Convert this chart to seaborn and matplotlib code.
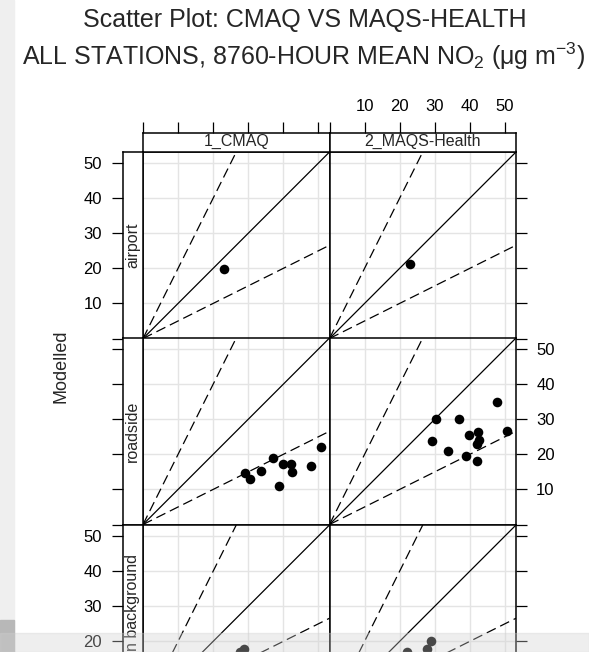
import matplotlib
matplotlib.use("Agg")
import matplotlib.pyplot as plt
from matplotlib.patches import Rectangle
import seaborn as sns
import pandas as pd

sns.set_style("white")
plt.rcParams['font.family'] = ['Liberation Sans', 'DejaVu Sans']
plt.rcParams['mathtext.fontset'] = 'custom'
plt.rcParams['mathtext.rm'] = 'Liberation Sans'
plt.rcParams['mathtext.default'] = 'regular'

models = ["1_CMAQ", "2_MAQS-Health"]
sites = ["airport", "roadside", "urban background"]

airport_cmaq_obs = [23.1]
airport_cmaq_mod = [19.9]
airport_maqs_obs = [22.9]
airport_maqs_mod = [21.3]

roadside_cmaq_obs = [29.1, 30.6, 33.8, 37.0, 39.8, 42.3, 42.4, 38.8, 47.9, 50.7]
roadside_cmaq_mod = [14.8, 13.1, 15.3, 18.9, 17.4, 17.4, 15.1, 10.9, 16.6, 22.2]
roadside_maqs_obs = [30.5, 36.9, 29.1, 33.7, 39.8, 42.5, 42.7, 42.0, 38.8, 42.0, 47.8, 50.7]
roadside_maqs_mod = [30.2, 30.2, 23.9, 21.1, 25.6, 26.3, 24.1, 22.9, 19.4, 18.2, 34.9, 26.6]

urban_cmaq_obs = [28.9, 27.8]
urban_cmaq_mod = [17.9, 16.9]
urban_maqs_obs = [28.9, 27.7, 22.2]
urban_maqs_mod = [20.1, 17.7, 16.9]

ticks = [0, 10, 20, 30, 40, 50]
tick_labels = ["", "10", "20", "30", "40", "50"]
no_labels = [""] * len(ticks)
ref_slopes = [1.0, 2.0, 0.5]   # 1:1, 2:1, 1:2 lines

series = [
    ("airport", "1_CMAQ", airport_cmaq_obs, airport_cmaq_mod),
    ("airport", "2_MAQS-Health", airport_maqs_obs, airport_maqs_mod),
    ("roadside", "1_CMAQ", roadside_cmaq_obs, roadside_cmaq_mod),
    ("roadside", "2_MAQS-Health", roadside_maqs_obs, roadside_maqs_mod),
    ("urban background", "1_CMAQ", urban_cmaq_obs, urban_cmaq_mod),
    ("urban background", "2_MAQS-Health", urban_maqs_obs, urban_maqs_mod),
]
frames = []
for site, model, obs, mod in series:
    frames.append(pd.DataFrame({"site": site, "model": model, "obs": obs, "mod": mod}))
df = pd.concat(frames, ignore_index=True)

W, H = 589, 652
fig = plt.figure(figsize=(W / 100, H / 100), dpi=100)

def box(x0, y0, w, h):
    # pixel box (top-left origin) -> figure fraction
    return [x0 / W, (H - y0 - h) / H, w / W, h / H]

def frame(a):
    for sp in a.spines.values():
        sp.set_color("black")
        sp.set_linewidth(1.1)

col_x = [143, 329.5]
row_y = [152, 338, 525]
pw, ph = 186.5, 186.5
lim = 53.2
tick_fs = 12
strip_fs = 11.5

for r, site in enumerate(sites):
    for c, model in enumerate(models):
        ax = fig.add_axes(box(col_x[c], row_y[r], pw, ph))
        ax.set_xlim(0, lim)
        ax.set_ylim(0, lim)
        for v in ticks[1:]:
            ax.axvline(v, color="#e4e4e4", lw=1.0, zorder=0)
            ax.axhline(v, color="#e4e4e4", lw=1.0, zorder=0)
        for s in ref_slopes:
            ax.axline((0, 0), slope=s, color="black", lw=0.9,
                      ls="-" if s == 1.0 else (0, (8, 4)), zorder=2)
        sub = df[(df["site"] == site) & (df["model"] == model)]
        sns.scatterplot(data=sub, x="obs", y="mod", ax=ax, color="black",
                        s=48, linewidth=0, legend=False, zorder=3)
        ax.set_xlabel("")
        ax.set_ylabel("")
        frame(ax)
        ax.set_xticks([])
        if c == 1:
            ax.yaxis.tick_right()
            ax.set_yticks(ticks)
            ax.set_yticklabels(tick_labels if r == 1 else no_labels, fontsize=tick_fs)
            ax.tick_params(axis="y", direction="out", length=8, width=0.9,
                           colors="black", pad=6.5, right=True, left=False)
        else:
            ax.set_yticks([])

        # strip on top of the first row
        if r == 0:
            sx = fig.add_axes(box(col_x[c], 133, pw, 19))
            sx.set_xlim(0, lim)
            sx.set_facecolor("white")
            sx.text(0.5, 0.56, model, transform=sx.transAxes, ha="center",
                    va="center", fontsize=strip_fs)
            sx.xaxis.tick_top()
            sx.set_xticks(ticks)
            sx.set_xticklabels(tick_labels if c == 1 else no_labels, fontsize=tick_fs)
            sx.tick_params(axis="x", direction="out", length=8, width=0.9,
                           colors="black", pad=5.5, top=True, bottom=False)
            sx.set_yticks([])
            frame(sx)

        # strip on the left of the first column
        if c == 0:
            sy = fig.add_axes(box(123, row_y[r], 20, ph))
            sy.set_ylim(0, lim)
            sy.set_facecolor("white")
            sy.text(0.48, 0.5, site, transform=sy.transAxes, ha="center",
                    va="center", rotation=90, fontsize=strip_fs)
            sy.set_yticks(ticks)
            sy.set_yticklabels(tick_labels if r != 1 else no_labels, fontsize=tick_fs)
            sy.tick_params(axis="y", direction="out", length=8, width=0.9,
                           colors="black", pad=7, left=True, right=False)
            sy.set_xticks([])
            frame(sy)

fig.text(305 / W, 1 - 27 / H, "Scatter Plot: CMAQ VS MAQS-HEALTH",
         ha="center", va="baseline", fontsize=18)
fig.text(304 / W, 1 - 65 / H,
         r"ALL STATIONS, 8760-HOUR MEAN NO$_2$ ($\mu$g m$^{-3}$)",
         ha="center", va="baseline", fontsize=18)
fig.text(61 / W, 1 - 366 / H, "Modelled", rotation=90, ha="center",
         va="center", fontsize=13)

# screenshot edges
fig.patches.append(Rectangle((0, 0), 14 / W, 1, transform=fig.transFigure,
                             color="#efefef", zorder=-5))
fig.patches.append(Rectangle((0, 0), 14 / W, 32 / H, transform=fig.transFigure,
                             color="#b8b8b8", zorder=20))
fig.patches.append(Rectangle((0, 0), 1, 19 / H, transform=fig.transFigure,
                             color="#d0d0d0", alpha=0.35, zorder=20))

fig.savefig("out.png", dpi=100)
